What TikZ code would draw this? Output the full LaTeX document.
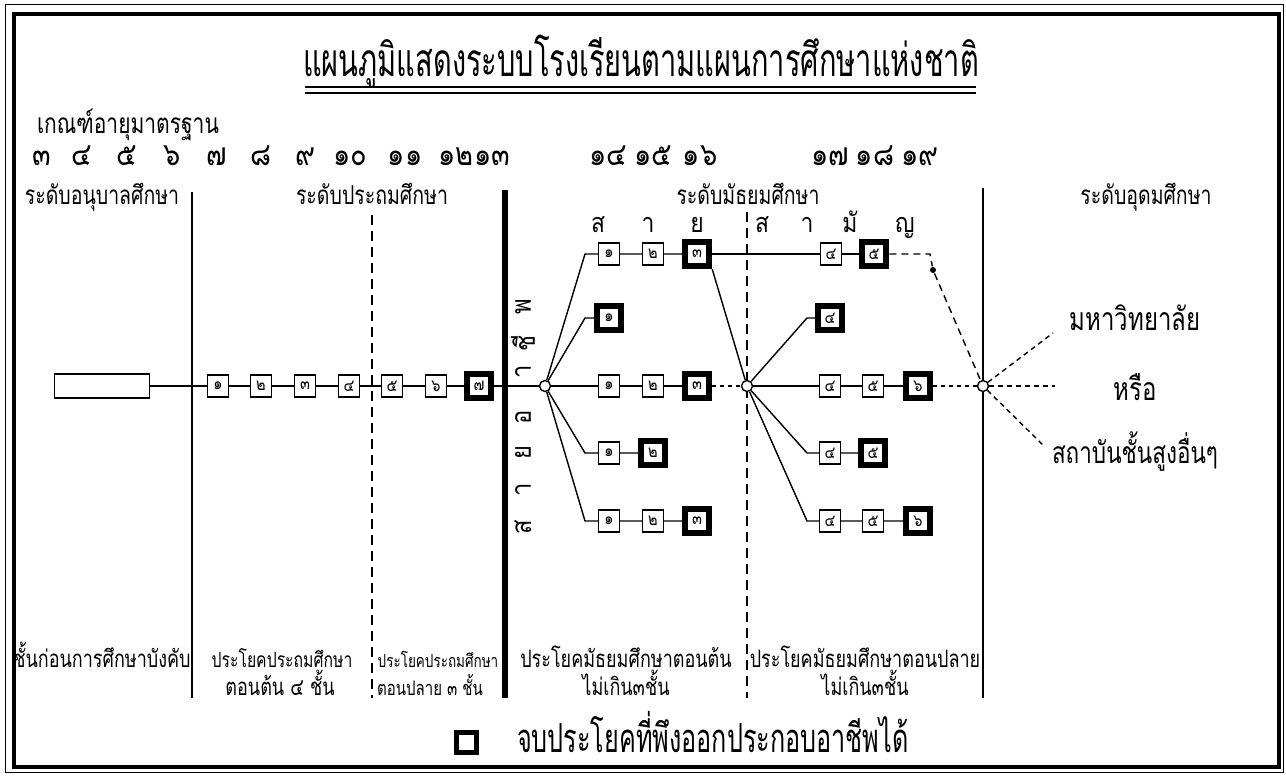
\documentclass[tikz,border=0pt]{standalone}
\usepackage{fontspec}
\newfontfamily\thai[Script=Thai,FakeStretch=0.75]{Loma}
\newfontfamily\thaititle[Script=Thai,FakeStretch=0.63]{Loma}
\newfontfamily\thainum[Script=Thai,FakeStretch=0.85]{Loma}

\begin{document}
\begin{tikzpicture}[x=1pt, y=-1pt, line width=1.4pt,
    box/.style={draw, fill=white, minimum width=21pt, minimum height=22pt, inner sep=0pt, font=\thainum\fontsize{17}{17}\selectfont},
    endbox/.style={draw, fill=white, line width=6.5pt, minimum size=24pt, inner sep=0pt, font=\thainum\fontsize{17}{17}\selectfont},
    hub/.style={circle, draw, fill=white, inner sep=0pt, minimum size=11pt},
    age/.style={anchor=base, inner sep=1pt, font=\thainum\fontsize{32}{32}\selectfont},
    stream/.style={anchor=base, inner sep=0pt, font=\thainum\fontsize{27}{27}\selectfont},
    upright/.style={rotate=90, font=\thainum\fontsize{28}{28}\selectfont},
    lvl/.style={anchor=base, inner sep=1pt, font=\thai\fontsize{26}{26}\selectfont},
    foot/.style={anchor=base, inner sep=1pt, font=\thai\fontsize{24}{24}\selectfont},
    dashline/.style={dash pattern=on 10pt off 6pt}]
    \useasboundingbox (0,0) rectangle (1286,776);

    % frame
    \draw[line width=1pt] (5,5) rectangle (1283,772);
    \draw[line width=4.5pt] (14,14) rectangle (1279,767);

    % title
    \node[anchor=base, font=\thaititle\fontsize{46}{46}\selectfont] (title) at (641,77) {แผนภูมิแสดงระบบโรงเรียนตามแผนการศึกษาแห่งชาติ};
    \draw[line width=1.6pt] (305,87) -- (976,87);
    \draw[line width=1.6pt] (305,93) -- (976,93);

    % ages
    \node[anchor=base west, font=\thai\fontsize{28}{28}\selectfont] (crit) at (33,133) {เกณฑ์อายุมาตรฐาน};
    \node[age] (a3) at (42,165) {๓};
    \node[age] (a4) at (82,165) {๔};
    \node[age] (a5) at (127,165) {๕};
    \node[age] (a6) at (172,165) {๖};
    \node[age] (a7) at (217,165) {๗};
    \node[age] (a8) at (261,165) {๘};
    \node[age] (a9) at (305,165) {๙};
    \node[age] (a10) at (350,165) {๑๐};
    \node[age] (a11) at (405,165) {๑๑};
    \node[age] (a12) at (456,165) {๑๒};
    \node[age] (a13) at (492,165) {๑๓};
    \node[age] (a14) at (608,165) {๑๔};
    \node[age] (a15) at (653,165) {๑๕};
    \node[age] (a16) at (700,165) {๑๖};
    \node[age] (a17) at (830,165) {๑๗};
    \node[age] (a18) at (875,165) {๑๘};
    \node[age] (a19) at (920,165) {๑๙};

    % levels
    \node[lvl] (lkg) at (102,204) {ระดับอนุบาลศึกษา};
    \node[lvl] (lpri) at (372,204) {ระดับประถมศึกษา};
    \node[lvl] (lsec) at (748,204) {ระดับมัธยมศึกษา};
    \node[lvl] (lhi) at (1146,204) {ระดับอุดมศึกษา};
    \node[stream] (s1) at (598,232) {ส};
    \node[stream] (s2) at (648,232) {า};
    \node[stream] (s3) at (697,232) {ย};
    \node[stream] (s4) at (762,232) {ส};
    \node[stream] (s5) at (807,232) {า};
    \node[stream] (s6) at (850,232) {มั};
    \node[stream] (s7) at (905,232) {ญ};

    % dividers
    \draw[line width=2.4pt] (192,192) -- (192,698);
    \draw[line width=1.8pt, dashline] (372,215) -- (372,698);
    \draw[line width=6pt] (505,190) -- (505,698);
    \draw[line width=1.8pt, dashline] (747,212) -- (747,698);
    \draw[line width=2.4pt] (983,188) -- (983,698);

    % vocational stream
    \node[upright] (v1) at (523,527) {ส};
    \node[upright] (v2) at (523,490) {า};
    \node[upright] (v3) at (523,453) {ย};
    \node[upright] (v4) at (523,417) {อ};
    \node[upright] (v5) at (523,372) {า};
    \node[upright] (v6) at (523,343) {ชี};
    \node[upright] (v7) at (523,307) {พ};

    % kindergarten and primary
    \node[draw, minimum width=95pt, minimum height=24pt] (kg) at (102,386) {};
    \node[box] (p1) at (218,386) {๑};
    \node[box] (p2) at (261,386) {๒};
    \node[box] (p3) at (305,386) {๓};
    \node[box] (p4) at (349,386) {๔};
    \node[box] (p5) at (392,386) {๕};
    \node[box] (p6) at (436,386) {๖};
    \node[endbox] (p7) at (479,386) {๗};
    \node[hub] (c1) at (545,386) {};
    \draw (kg) -- (p1) -- (p2) -- (p3) -- (p4) -- (p5) -- (p6) -- (p7) -- (c1);

    % lower secondary
    \coordinate (e1) at (585,254);
    \coordinate (e2) at (585,318);
    \coordinate (e3) at (585,453);
    \coordinate (e4) at (585,521);
    \node[box] (t1) at (609,254) {๑};
    \node[box] (t2) at (653,254) {๒};
    \node[endbox] (t3) at (697,254) {๓};
    \node[endbox] (u1) at (609,318) {๑};
    \node[box] (m1) at (609,386) {๑};
    \node[box] (m2) at (653,386) {๒};
    \node[endbox] (m3) at (697,386) {๓};
    \node[box] (b1) at (609,453) {๑};
    \node[endbox] (b2) at (653,453) {๒};
    \node[box] (d1) at (609,521) {๑};
    \node[box] (d2) at (653,521) {๒};
    \node[endbox] (d3) at (697,521) {๓};
    \node[hub] (c2) at (747,386) {};
    \draw (c1) -- (e1) -- (t1) -- (t2) -- (t3);
    \draw (c1) -- (e2) -- (u1);
    \draw (c1) -- (m1) -- (m2) -- (m3);
    \draw (c1) -- (e3) -- (b1) -- (b2);
    \draw (c1) -- (e4) -- (d1) -- (d2) -- (d3);
    \draw[dash pattern=on 4pt off 4pt] (m3) -- (c2);
    \draw (t3.south east) -- (c2);

    % upper secondary
    \coordinate (e5) at (807,318);
    \coordinate (e6) at (807,453);
    \coordinate (e7) at (807,521);
    \node[box] (t4) at (831,254) {๔};
    \node[endbox] (t5) at (874,254) {๕};
    \node[endbox] (u4) at (830,318) {๔};
    \node[box] (m4) at (830,386) {๔};
    \node[box] (m5) at (873,386) {๕};
    \node[endbox] (m6) at (918,386) {๖};
    \node[box] (b4) at (830,453) {๔};
    \node[endbox] (b5) at (873,453) {๕};
    \node[box] (d4) at (830,521) {๔};
    \node[box] (d5) at (873,521) {๕};
    \node[endbox] (d6) at (918,521) {๖};
    \node[hub] (c3) at (983,386) {};
    \draw (t3) -- (t4) -- (t5);
    \draw (c2) -- (e5) -- (u4);
    \draw (c2) -- (m4) -- (m5) -- (m6);
    \draw (c2) -- (e6) -- (b4) -- (b5);
    \draw (c2) -- (e7) -- (d4) -- (d5) -- (d6);
    \draw[dash pattern=on 4pt off 4pt] (m6) -- (c3);
    \coordinate (f1) at (930,254);
    \node[circle, fill, inner sep=0pt, minimum size=6pt] (dot) at (933,270) {};
    \draw[dash pattern=on 7pt off 5pt] (t5) -- (f1) -- (dot) -- (c3);

    % higher education
    \coordinate (r1) at (1053,333);
    \coordinate (r2) at (1055,386);
    \coordinate (r3) at (1043,445);
    \draw[dash pattern=on 5pt off 4pt] (c3) -- (r1);
    \draw[dash pattern=on 5pt off 4pt] (c3) -- (r2);
    \draw[dash pattern=on 5pt off 4pt] (c3) -- (r3);
    \node[anchor=base, font=\thai\fontsize{32}{32}\selectfont] (uni) at (1135,330) {มหาวิทยาลัย};
    \node[anchor=base, font=\thai\fontsize{32}{32}\selectfont] (or) at (1135,400) {หรือ};
    \node[anchor=base, font=\thai\fontsize{30}{30}\selectfont] (inst) at (1135,463) {สถาบันชั้นสูงอื่นๆ};

    % certificates
    \node[foot] (f1a) at (102,667) {ชั้นก่อนการศึกษาบังคับ};
    \node[foot, font=\thai\fontsize{21}{21}\selectfont] (f2a) at (282,667) {ประโยคประถมศึกษา};
    \node[foot] (f2b) at (280,695) {ตอนต้น ๔ ชั้น};
    \node[foot, font=\thai\fontsize{18}{18}\selectfont] (f3a) at (438,667) {ประโยคประถมศึกษา};
    \node[foot, font=\thai\fontsize{20}{20}\selectfont] (f3b) at (430,695) {ตอนปลาย ๓ ชั้น};
    \node[foot] (f4a) at (626,667) {ประโยคมัธยมศึกษาตอนต้น};
    \node[foot] (f4b) at (626,695) {ไม่เกิน๓ชั้น};
    \node[foot] (f5a) at (865,667) {ประโยคมัธยมศึกษาตอนปลาย};
    \node[foot] (f5b) at (865,695) {ไม่เกิน๓ชั้น};

    % legend
    \node[draw, line width=5pt, minimum size=20pt, inner sep=0pt] (key) at (466,742) {};
    \node[anchor=base west, font=\thaititle\fontsize{40}{40}\selectfont] (keytext) at (513,752) {จบประโยคที่พึงออกประกอบอาชีพได้};
\end{tikzpicture}
\end{document}
